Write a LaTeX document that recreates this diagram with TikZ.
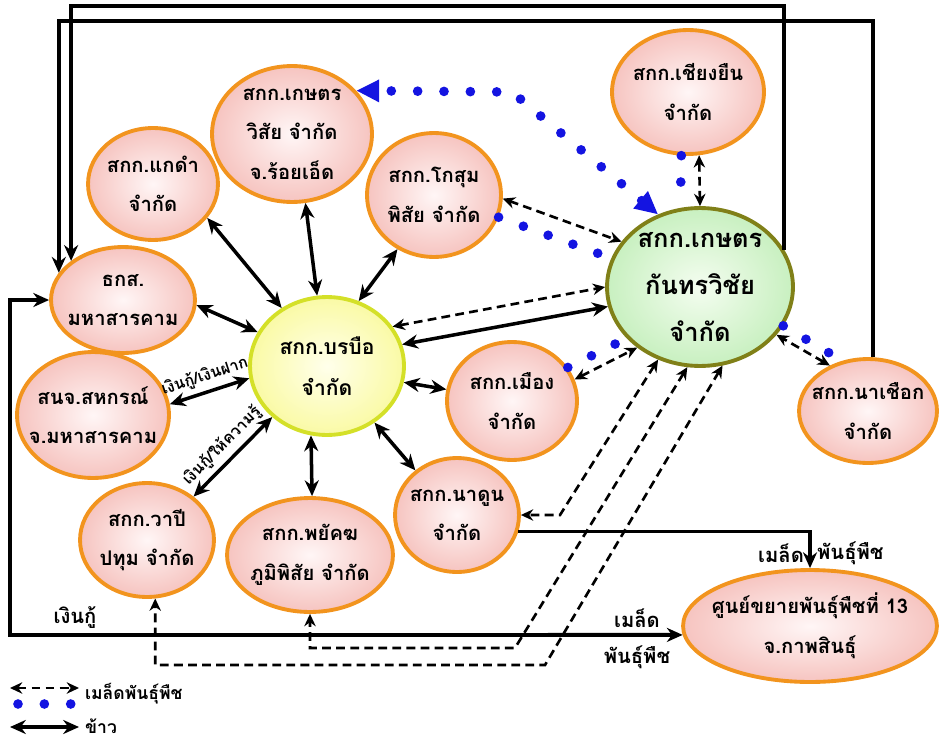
\documentclass[tikz,border=0pt]{standalone}
\usepackage{fontspec}
\setmainfont{Loma}[Script=Thai]
\usepackage{tikz}
\usetikzlibrary{shapes.geometric,arrows.meta}
\definecolor{orgline}{RGB}{242,148,30}
\definecolor{pinkin}{RGB}{255,246,246}
\definecolor{pinkout}{RGB}{246,196,192}
\definecolor{yelline}{RGB}{212,224,40}
\definecolor{yelin}{RGB}{255,255,235}
\definecolor{yelout}{RGB}{250,250,165}
\definecolor{grnline}{RGB}{128,128,24}
\definecolor{grnin}{RGB}{244,253,240}
\definecolor{grnout}{RGB}{200,240,192}
\definecolor{dotblue}{RGB}{20,20,225}

\begin{document}
\begin{tikzpicture}[x=0.02cm,y=-0.02cm,
  sz/.style 2 args={minimum width=#1*0.04cm,minimum height=#2*0.04cm},
  pk/.style={ellipse,draw=orgline,line width=2.2pt,inner color=pinkin,outer color=pinkout,
    align=center,inner sep=-14pt,font=\bfseries\fontsize{11.5}{22.5}\selectfont},
  hub/.style={pk,draw=yelline,inner color=yelin,outer color=yelout,font=\bfseries\fontsize{12}{23}\selectfont},
  kt/.style={pk,draw=grnline,inner color=grnin,outer color=grnout,font=\bfseries\fontsize{14.5}{27}\selectfont},
  lbl/.style={font=\bfseries\fontsize{11.5}{14}\selectfont,inner sep=1pt},
  small/.style={font=\bfseries\fontsize{9}{11}\selectfont,inner sep=1pt},
  rice/.style={{Stealth[length=9pt,width=8pt]}-{Stealth[length=9pt,width=8pt]},line width=2pt},
  seed/.style={{Stealth[length=7pt,width=6.5pt]}-{Stealth[length=7pt,width=6.5pt]},line width=1.5pt,dash pattern=on 5pt off 3pt},
  dots/.style={draw=dotblue,line width=5.5pt,line cap=round,dash pattern=on 0pt off 15pt},
  frame/.style={-{Stealth[length=9pt,width=8pt]},line width=2.2pt}]
\useasboundingbox (0,0) rectangle (939,740);

\node[pk,sz={65}{56}] (kaedam) at (153,184) {สกก.แกดำ\\จำกัด};
\node[pk,sz={80}{68}] (kwisai) at (292,134) {สกก.เกษตร\\วิสัย จำกัด\\จ.ร้อยเอ็ด};
\node[pk,sz={67}{62}] (kosum) at (434,195) {สกก.โกสุม\\พิสัย จำกัด};
\node[pk,sz={72}{53}] (baac) at (123,300) {ธกส.\\มหาสารคาม};
\node[hub,sz={77}{69}] (borabue) at (327,366) {สกก.บรบือ\\จำกัด};
\node[pk,sz={76}{63}] (coop) at (93,415) {สนจ.สหกรณ์\\จ.มหาสารคาม};
\node[pk,sz={67}{57}] (wapi) at (147,540) {สกก.วาปี\\ปทุม จำกัด};
\node[pk,sz={83}{57}] (phayak) at (310,555) {สกก.พยัคฆ\\ภูมิพิสัย จำกัด};
\node[pk,sz={62}{57}] (nadun) at (457,515) {สกก.นาดูน\\จำกัด};
\node[pk,sz={65}{59}] (mueang) at (512,401) {สกก.เมือง\\จำกัด};
\node[kt,sz={93}{79}] (kantha) at (700,287) {สกก.เกษตร\\กันทรวิชัย\\จำกัด};
\node[pk,sz={76}{62}] (cyuen) at (688,92) {สกก.เชียงยืน\\จำกัด};
\node[pk,sz={69}{52}] (nachuak) at (868,411) {สกก.นาเชือก\\จำกัด};
\node[pk,sz={127}{56}] (srp) at (810,626) {ศูนย์ขยายพันธุ์พืชที่ 13\\จ.กาพสินธุ์};

% rice
\draw[rice] (kaedam.-32) -- (borabue.128);
\draw[rice] (kwisai.-79) -- (borabue.98);
\draw[rice] (kosum.236) -- (borabue.64);
\draw[rice] (baac.-4) -- (borabue.154);
\draw[rice] (coop.8) -- node[small,sloped,above=2pt] (tdep) {เงินกู้/เงินฝาก} (borabue.189);
\draw[rice] (wapi.43) -- node[small,sloped,above=2pt] (tknow) {เงินกู้/ให้ความรู้} (borabue.-137);
\draw[rice] (phayak.88) -- (borabue.-103);
\draw[rice] (nadun.133) -- (borabue.-50);
\draw[rice] (mueang.170) -- (borabue.-12);
\draw[rice] (borabue.16) -- (kantha.192);

% seed
\draw[seed] (borabue.31) -- (kantha.180);
\draw[seed] (kosum.-3) -- (kantha.150);
\draw[seed] (cyuen.-80) -- (kantha.90);
\draw[seed] (mueang.19) -- (kantha.-136);
\draw[seed] (nachuak.130) -- (kantha.-32);
\draw[seed] (kantha.-120) -- (560,515) -- (nadun.0);
\draw[seed] (kantha.-99) -- (515,648) -| (phayak.-90);
\draw[seed] (kantha.-74) -- (545,665) -| (wapi.-82);

% blue dots
\draw[dots,{Triangle[length=13pt,width=12pt]}-{Triangle[length=13pt,width=12pt]}]
  (kantha.120) -- (512,92) -- (kwisai.34);
\draw[dots] (kosum.-19) -- (kantha.162);
\draw[dots] (cyuen.-96) -- (kantha.104);
\draw[dots] (mueang.31) -- (kantha.-145);
\draw[dots] (kantha.-25) -- (nachuak.117);

% frame
\draw[frame] (kantha.24) -- (kantha.24 |- 0,6) -| (baac.143);
\draw[frame] (nachuak.85) -- (nachuak.85 |- 0,21) -| (baac.157);
\draw[rice,line width=2.2pt] (baac.west) -| (10,635) -- (srp.184);
\draw[frame] (nadun.-15) -| (srp.north);
\node[lbl] (tloan) at (75,618) {เงินกู้};
\node[lbl] (tseed1) at (637,618) {เมล็ด};
\node[lbl] (tseed2) at (637,657) {พันธุ์พืช};
\node[lbl,anchor=east] (tseed3) at (806,553) {เมล็ด};
\node[lbl,anchor=west] (tseed4) at (815,553) {พันธุ์พืช};

% legend
\coordinate (k1) at (10,688); \coordinate (k2) at (79,688);
\coordinate (k3) at (18,704); \coordinate (k4) at (75,704);
\coordinate (k5) at (10,727); \coordinate (k6) at (79,727);
\draw[seed] (k1) -- (k2);
\draw[dots] (k3) -- (k4);
\draw[rice] (k5) -- (k6);
\node[small,anchor=west,font=\bfseries\fontsize{10}{12}\selectfont] (lseed) at (83,694) {เมล็ดพันธุ์พืช};
\node[small,anchor=west,font=\bfseries\fontsize{10}{12}\selectfont] (lrice) at (83,726) {ข้าว};
\end{tikzpicture}
\end{document}
